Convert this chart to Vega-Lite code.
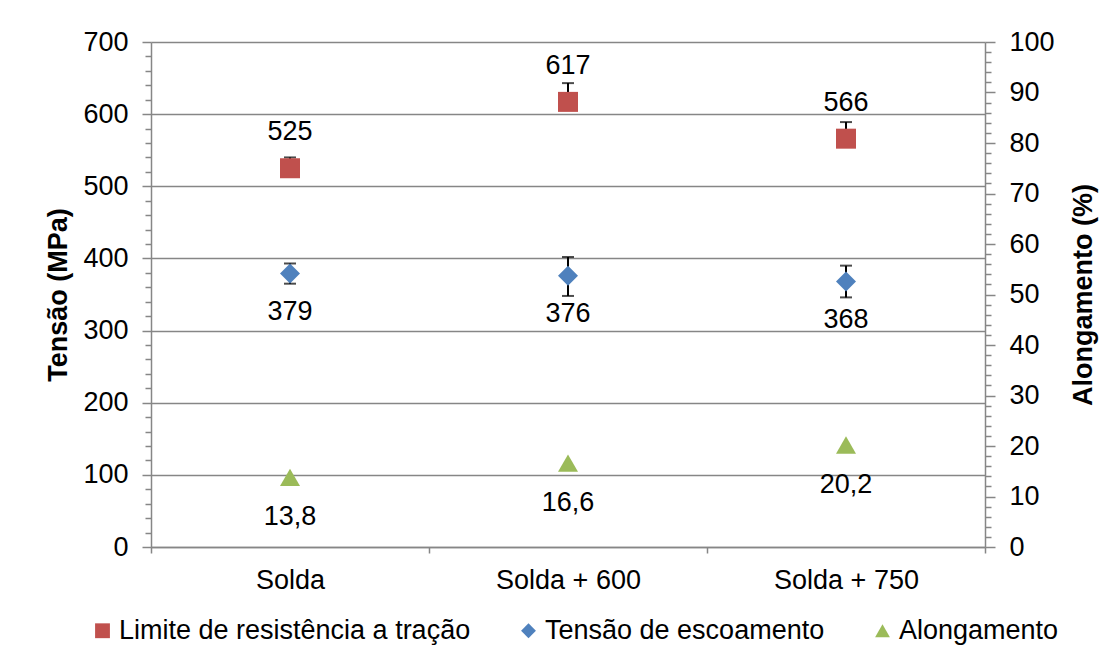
{
  "$schema": "https://vega.github.io/schema/vega-lite/v6.json",
  "width": 834,
  "height": 505,
  "autosize": {"type": "none"},
  "padding": {"left": 151, "top": 42, "right": 130, "bottom": 119},
  "background": "white",
  "config": {
    "font": "Liberation Sans",
    "view": {"stroke": null},
    "axis": {
      "labelFont": "Liberation Sans",
      "labelFontSize": 27,
      "labelColor": "#000000",
      "labelOverlap": false,
      "labelBound": false,
      "titleFont": "Liberation Sans",
      "titleFontSize": 27,
      "titleFontWeight": "bold",
      "titleColor": "#000000",
      "domainColor": "#868686",
      "tickColor": "#868686",
      "gridColor": "#868686",
      "domainWidth": 1.5,
      "tickWidth": 1.5,
      "gridWidth": 1.5
    },
    "legend": {
      "orient": "none",
      "legendX": -62,
      "legendY": 575,
      "direction": "horizontal",
      "labelFont": "Liberation Sans",
      "labelFontSize": 27,
      "labelColor": "#000000",
      "labelLimit": 0,
      "symbolSize": 220,
      "symbolStrokeWidth": 0,
      "columnPadding": 44,
      "labelOffset": 3
    }
  },
  "data": {
    "values": [
      {"cat": "Solda", "serie": "Limite de resistência a tração", "valor": 525, "inf": 525, "sup": 540, "rotulo": "525"},
      {"cat": "Solda + 600", "serie": "Limite de resistência a tração", "valor": 617, "inf": 617, "sup": 643, "rotulo": "617"},
      {"cat": "Solda + 750", "serie": "Limite de resistência a tração", "valor": 566, "inf": 566, "sup": 589, "rotulo": "566"},
      {"cat": "Solda", "serie": "Tensão de escoamento", "valor": 379, "inf": 365, "sup": 393, "rotulo": "379"},
      {"cat": "Solda + 600", "serie": "Tensão de escoamento", "valor": 376, "inf": 348, "sup": 402, "rotulo": "376"},
      {"cat": "Solda + 750", "serie": "Tensão de escoamento", "valor": 368, "inf": 346, "sup": 390, "rotulo": "368"},
      {"cat": "Solda", "serie": "Alongamento", "valor": 13.8, "rotulo": "13,8"},
      {"cat": "Solda + 600", "serie": "Alongamento", "valor": 16.6, "rotulo": "16,6"},
      {"cat": "Solda + 750", "serie": "Alongamento", "valor": 20.2, "rotulo": "20,2"}
    ]
  },
  "encoding": {
    "x": {
      "field": "cat",
      "type": "nominal",
      "sort": ["Solda", "Solda + 600", "Solda + 750"],
      "scale": {"paddingInner": 0, "paddingOuter": 0},
      "axis": {
        "title": null,
        "labelAngle": 0,
        "tickBand": "extent",
        "tickSize": 6,
        "labelPadding": 14,
        "grid": false
      }
    }
  },
  "layer": [
    {
      "transform": [{"filter": "datum.serie !== 'Alongamento'"}],
      "layer": [
        {
          "mark": {"type": "rule", "color": "#000000", "strokeWidth": 2},
          "encoding": {
            "y": {
              "field": "inf",
              "type": "quantitative",
              "title": "Tensão (MPa)",
              "scale": {"domain": [0, 700], "nice": false},
              "axis": {
                "title": "Tensão (MPa)",
                "values": [0, 20, 40, 60, 80, 100, 120, 140, 160, 180, 200, 220, 240, 260, 280, 300, 320, 340, 360, 380, 400, 420, 440, 460, 480, 500, 520, 540, 560, 580, 600, 620, 640, 660, 680, 700],
                "tickCount": 200,
                "format": "d",
                "labelExpr": "datum.value % 100 === 0 ? datum.label : ''",
                "labelOverlap": false,
                "labelBound": false,
                "tickSize": {"condition": {"test": "datum.value % 100 === 0", "value": 9}, "value": 6},
                "grid": true,
                "gridOpacity": {"condition": {"test": "datum.value % 100 === 0", "value": 1}, "value": 0},
                "labelPadding": 14,
                "titlePadding": 10
              }
            },
            "y2": {"field": "sup"}
          }
        },
        {
          "mark": {"type": "tick", "color": "#000000", "thickness": 2, "size": 12},
          "encoding": {"y": {"field": "sup", "type": "quantitative", "title": "Tensão (MPa)"}}
        },
        {
          "mark": {"type": "tick", "color": "#000000", "thickness": 2, "size": 12},
          "encoding": {"y": {"field": "inf", "type": "quantitative", "title": "Tensão (MPa)"}}
        },
        {
          "mark": {"type": "point", "filled": true, "opacity": 1, "size": 400, "strokeWidth": 0},
          "encoding": {
            "y": {"field": "valor", "type": "quantitative", "title": "Tensão (MPa)"},
            "color": {
              "field": "serie",
              "type": "nominal",
              "scale": {"domain": ["Limite de resistência a tração", "Tensão de escoamento", "Alongamento"], "range": ["#C0504D", "#4F81BD", "#9BBB59"]},
              "legend": {"title": null}
            },
            "shape": {
              "field": "serie",
              "type": "nominal",
              "scale": {"domain": ["Limite de resistência a tração", "Tensão de escoamento", "Alongamento"], "range": ["square", "diamond", "triangle-up"]},
              "legend": {"title": null}
            }
          }
        },
        {
          "transform": [{"filter": "datum.serie === 'Limite de resistência a tração'"}],
          "mark": {"type": "text", "fontSize": 27, "color": "#000000", "dy": -36, "baseline": "middle"},
          "encoding": {
            "y": {"field": "valor", "type": "quantitative", "title": "Tensão (MPa)"},
            "text": {"field": "rotulo"}
          }
        },
        {
          "transform": [{"filter": "datum.serie === 'Tensão de escoamento'"}],
          "mark": {"type": "text", "fontSize": 27, "color": "#000000", "dy": 38, "baseline": "middle"},
          "encoding": {
            "y": {"field": "valor", "type": "quantitative", "title": "Tensão (MPa)"},
            "text": {"field": "rotulo"}
          }
        }
      ]
    },
    {
      "transform": [{"filter": "datum.serie === 'Alongamento'"}],
      "layer": [
        {
          "mark": {"type": "point", "filled": true, "opacity": 1, "size": 400, "strokeWidth": 0},
          "encoding": {
            "y": {
              "field": "valor",
              "type": "quantitative",
              "title": "Alongamento (%)",
              "scale": {"domain": [0, 100], "nice": false},
              "axis": {
                "orient": "right",
                "title": "Alongamento (%)",
                "titleAngle": -90,
                "titleBaseline": "top",
                "values": [0, 2, 4, 6, 8, 10, 12, 14, 16, 18, 20, 22, 24, 26, 28, 30, 32, 34, 36, 38, 40, 42, 44, 46, 48, 50, 52, 54, 56, 58, 60, 62, 64, 66, 68, 70, 72, 74, 76, 78, 80, 82, 84, 86, 88, 90, 92, 94, 96, 98, 100],
                "tickCount": 200,
                "format": "d",
                "labelExpr": "datum.value % 10 === 0 ? datum.label : ''",
                "labelOverlap": false,
                "labelBound": false,
                "tickSize": {"condition": {"test": "datum.value % 10 === 0", "value": 10}, "value": 6},
                "grid": false,
                "labelPadding": 14,
                "titlePadding": 16
              }
            },
            "color": {
              "field": "serie",
              "type": "nominal",
              "legend": {"title": null}
            },
            "shape": {
              "field": "serie",
              "type": "nominal",
              "legend": {"title": null}
            }
          }
        },
        {
          "mark": {"type": "text", "fontSize": 27, "color": "#000000", "dy": 40, "baseline": "middle"},
          "encoding": {
            "y": {"field": "valor", "type": "quantitative", "title": "Alongamento (%)"},
            "text": {"field": "rotulo"}
          }
        }
      ]
    }
  ],
  "resolve": {"scale": {"y": "independent"}}
}
